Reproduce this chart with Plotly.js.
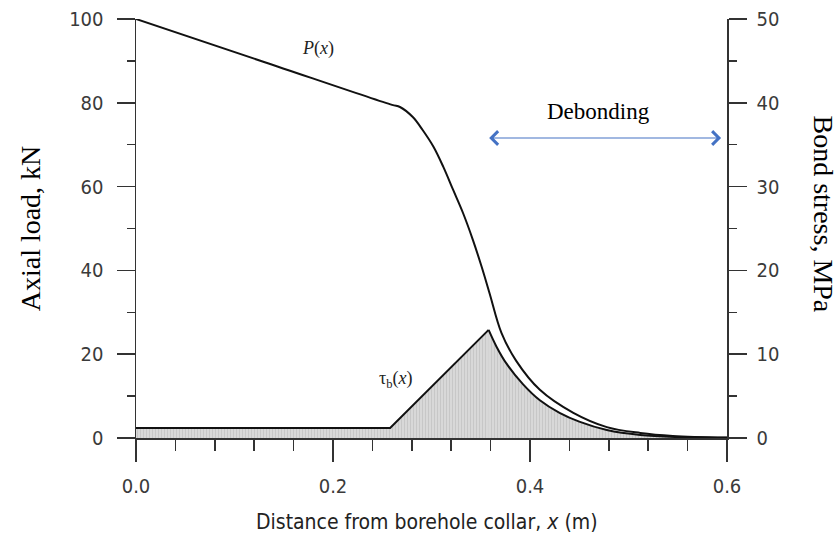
<!DOCTYPE html>
<html>
<head>
<meta charset="utf-8">
<script src="https://cdn.plot.ly/plotly-3.0.1.min.js"></script>
<style>html,body{margin:0;padding:0;background:#fff;}</style>
</head>
<body>
<div id="chart" style="width:838px;height:538px;"></div>
<script>
// Axial load P(x), kN
const xP = [0, 0.13, 0.26, 0.268, 0.281, 0.291, 0.302, 0.312, 0.322, 0.332, 0.342, 0.351, 0.359, 0.371, 0.386, 0.410, 0.444, 0.478, 0.512, 0.545, 0.6];
const P  = [100, 89.75, 79.5, 79.0, 76.6, 73.5, 69.5, 64.7, 59.2, 53.7, 47.3, 40.8, 34.5, 25.1, 18.4, 11.5, 6.0, 2.6, 1.2, 0.5, 0.1];
// Bond stress tau_b(x), MPa : linear rise to peak, then decay
const xTrise = [0, 0.258, 0.358];
const Trise  = [1.2, 1.2, 12.9];
const xTfall = [0.358, 0.366, 0.376, 0.393, 0.410, 0.430, 0.450, 0.478, 0.512, 0.55, 0.6];
const Tfall  = [12.9, 10.9, 8.9, 6.4, 4.5, 3.0, 1.95, 0.95, 0.36, 0.12, 0.03];
// tick labels
const xTickVals = [0, 0.2, 0.4, 0.6];
const xTickText = ["0.0", "0.2", "0.4", "0.6"];
const yLeftTicks = [0, 20, 40, 60, 80, 100];
const yRightTicks = [0, 10, 20, 30, 40, 50];
// debonding zone (x range)
const debondStart = 0.357, debondEnd = 0.594;

const axisColor = '#333';
const narrow = 'Liberation Sans Narrow, Arial Narrow, DejaVu Sans Condensed, sans-serif';
const tickFont = {family: narrow, size: 20, color: '#3a3a3a'};
const serif = 'Liberation Serif, Times New Roman, serif';

const fillStyle = {
  fill: 'tozeroy',
  fillcolor: 'rgba(205,205,205,0.9)',
  fillpattern: {shape: '|', size: 3, solidity: 0.15, fgcolor: '#b4b4b4', bgcolor: '#d8d8d8'}
};

const traces = [
  Object.assign({x: xTrise, y: Trise, yaxis: 'y2', mode: 'lines',
   line: {color: '#111', width: 2}, hoverinfo: 'skip'}, fillStyle),
  Object.assign({x: xTfall, y: Tfall, yaxis: 'y2', mode: 'lines',
   line: {color: '#111', width: 2, shape: 'spline', smoothing: 1}, hoverinfo: 'skip'}, fillStyle),
  {x: xP, y: P, mode: 'lines', line: {color: '#111', width: 2, shape: 'spline', smoothing: 1}, hoverinfo: 'skip'}
];

const layout = {
  width: 838, height: 538,
  margin: {l: 136, r: 111, t: 19, b: 100},
  paper_bgcolor: '#fff', plot_bgcolor: '#fff',
  showlegend: false,
  xaxis: {
    range: [0, 0.6], showline: true, linecolor: axisColor, linewidth: 1.5,
    ticks: 'outside', ticklen: 22, tickwidth: 1.5, tickcolor: axisColor,
    tickmode: 'array', tickvals: xTickVals, ticktext: xTickText,
    minor: {dtick: 0.04, tick0: 0, ticks: 'outside', ticklen: 11, tickwidth: 1.5, tickcolor: axisColor, showgrid: false},
    showgrid: false, zeroline: false, tickfont: tickFont, ticklabelstandoff: 7
  },
  yaxis: {
    range: [0, 100], showline: true, linecolor: axisColor, linewidth: 1.5,
    ticks: 'outside', ticklen: 18, tickwidth: 1.5, tickcolor: axisColor,
    tickmode: 'array', tickvals: yLeftTicks,
    minor: {dtick: 10, tick0: 0, ticks: 'outside', ticklen: 8, tickwidth: 1.5, tickcolor: axisColor, showgrid: false},
    showgrid: false, zeroline: false, tickfont: tickFont, ticklabelstandoff: 9
  },
  yaxis2: {
    overlaying: 'y', side: 'right', anchor: 'x',
    range: [0, 50], showline: true, linecolor: axisColor, linewidth: 1.5,
    ticks: 'outside', ticklen: 18, tickwidth: 1.5, tickcolor: axisColor,
    tickmode: 'array', tickvals: yRightTicks,
    minor: {dtick: 5, tick0: 0, ticks: 'outside', ticklen: 8, tickwidth: 1.5, tickcolor: axisColor, showgrid: false},
    showgrid: false, zeroline: false, tickfont: tickFont, ticklabelstandoff: 6
  },
  annotations: [
    {xref: 'paper', yref: 'paper', x: -0.178, y: 0.5, xanchor: 'center', yanchor: 'middle',
     text: 'Axial load, kN', textangle: -90, showarrow: false,
     font: {family: serif, size: 28, color: '#000'}},
    {xref: 'paper', yref: 'paper', x: 1.163, y: 0.535, xanchor: 'center', yanchor: 'middle',
     text: 'Bond stress, MPa', textangle: 90, showarrow: false,
     font: {family: serif, size: 28, color: '#000'}},
    {xref: 'paper', yref: 'paper', x: 0.4924, y: -0.2005, xanchor: 'center', yanchor: 'middle',
     text: 'Distance from borehole collar, <i>x</i> (m)', showarrow: false,
     font: {family: narrow, size: 21, color: '#222'}},
    {xref: 'x', yref: 'y', x: 0.185, y: 93, text: '<i>P</i>(<i>x</i>)', showarrow: false,
     font: {family: serif, size: 18, color: '#222'}},
    {xref: 'x', yref: 'y', x: 0.264, y: 14, text: 'τ<sub>b</sub>(<i>x</i>)', showarrow: false,
     font: {family: serif, size: 18, color: '#222'}},
    {xref: 'x', yref: 'y', x: 0.470, y: 78, text: 'Debonding', showarrow: false,
     font: {family: serif, size: 23, color: '#000'}},
    {xref: 'x', yref: 'y', x: debondEnd, y: 71.6, axref: 'x', ayref: 'y', ax: debondStart, ay: 71.6,
     text: '', showarrow: true, arrowhead: 4, startarrowhead: 4, arrowside: 'end+start',
     arrowsize: 2.2, startarrowsize: 2.2, arrowwidth: 1.2, arrowcolor: '#4472C4'}
  ]
};

Plotly.newPlot('chart', traces, layout, {staticPlot: true, displayModeBar: false});
</script>
</body>
</html>
